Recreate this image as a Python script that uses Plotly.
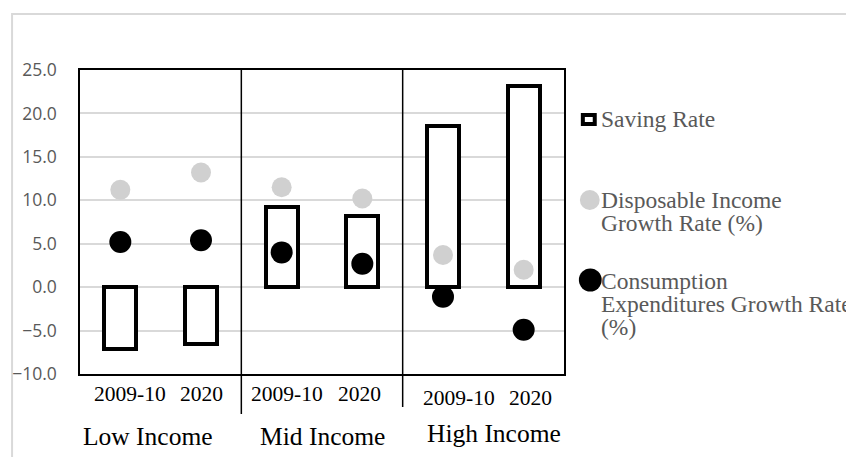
import plotly.graph_objects as go

# ---- data -------------------------------------------------------------
groups = ["Low Income", "Mid Income", "High Income"]
periods = ["2009-10", "2020", "2009-10", "2020", "2009-10", "2020"]
saving_rate = [-7.1, -6.6, 9.2, 8.2, 18.5, 23.2]
disposable_income_growth = [11.2, 13.2, 11.5, 10.2, 3.7, 2.0]
consumption_growth = [5.2, 5.4, 4.0, 2.7, -1.1, -4.9]
y_ticks = [-10, -5, 0, 5, 10, 15, 20, 25]

# ---- canvas / plot-area geometry (pixels) ------------------------------
W, H = 846, 457
L, R, T, B = 76, 564, 70, 374


def px(x):
    return (x - L) / (R - L)


def py(y):
    return (B - y) / (B - T)


x_idx = list(range(len(periods)))

fig = go.Figure()

fig.add_trace(go.Bar(
    x=x_idx, y=saving_rate, name="Saving Rate", width=0.4,
    marker=dict(color="white", line=dict(color="black", width=4)),
    showlegend=False,
))
fig.add_trace(go.Scatter(
    x=x_idx, y=disposable_income_growth, mode="markers",
    name="Disposable Income Growth Rate (%)",
    marker=dict(color="#d0d0d0", size=20, line=dict(width=0)),
    showlegend=False,
))
fig.add_trace(go.Scatter(
    x=x_idx, y=consumption_growth, mode="markers",
    name="Consumption Expenditures Growth Rate (%)",
    marker=dict(color="black", size=22, line=dict(width=0)),
    showlegend=False,
))

serif = "Liberation Serif, Times New Roman, serif"
annotations = []

# period labels under each bar
period_px = [126, 199, 285, 358, 458, 530]
period_py = [394, 394, 394, 394, 398, 398]
for lab, xp, yp in zip(periods, period_px, period_py):
    annotations.append(dict(
        text=lab, xref="paper", yref="paper", x=px(xp), y=py(yp),
        xanchor="center", yanchor="middle", showarrow=False,
        font=dict(family=serif, size=21.5, color="black"),
    ))

# income-group labels
group_px = [145, 321, 493]
group_py = [436, 436, 433]
for lab, xp, yp in zip(groups, group_px, group_py):
    annotations.append(dict(
        text=lab, xref="paper", yref="paper", x=px(xp), y=py(yp),
        xanchor="center", yanchor="middle", showarrow=False,
        font=dict(family=serif, size=25.5, color="black"),
    ))

# legend text, one annotation per line
legend_lines = [
    ("Saving Rate", 119),
    ("Disposable Income", 200),
    ("Growth Rate (%)", 223),
    ("Consumption", 281),
    ("Expenditures Growth Rate", 304),
    ("(%)", 327),
]
for lab, yp in legend_lines:
    annotations.append(dict(
        text=lab, xref="paper", yref="paper", x=px(599), y=py(yp),
        xanchor="left", yanchor="middle", showarrow=False,
        font=dict(family=serif, size=23.5, color="#595959"),
    ))

shapes = [
    # outer chart border
    dict(type="rect", xref="paper", yref="paper",
         x0=px(7.5), x1=px(900), y0=py(14), y1=py(520),
         line=dict(color="#d9d9d9", width=2), layer="below"),
    # group separators
    dict(type="line", xref="x", yref="paper", x0=1.5, x1=1.5,
         y0=1, y1=py(414), line=dict(color="black", width=1.5)),
    dict(type="line", xref="x", yref="paper", x0=3.5, x1=3.5,
         y0=1, y1=py(407), line=dict(color="black", width=1.5)),
    # legend symbols
    dict(type="rect", xref="paper", yref="paper",
         x0=px(583), x1=px(595), y0=py(124), y1=py(115),
         fillcolor="white", line=dict(color="black", width=4)),
    dict(type="circle", xref="paper", yref="paper",
         x0=px(580), x1=px(600), y0=py(210), y1=py(190),
         fillcolor="#d0d0d0", line=dict(width=0)),
    dict(type="circle", xref="paper", yref="paper",
         x0=px(579), x1=px(602), y0=py(291.5), y1=py(268.5),
         fillcolor="black", line=dict(width=0)),
]

fig.update_layout(
    width=W, height=H, autosize=False,
    margin=dict(l=L, r=W - R, t=T, b=H - B, pad=0),
    paper_bgcolor="white", plot_bgcolor="white",
    showlegend=False, bargap=0,
    annotations=annotations, shapes=shapes,
    xaxis=dict(
        range=[-0.5, len(periods) - 0.5], showticklabels=False,
        showgrid=False, zeroline=False, ticks="",
        showline=True, mirror=True, linecolor="black", linewidth=1.5,
    ),
    yaxis=dict(
        range=[-10, 25], tickvals=y_ticks, tickformat=".1f",
        showgrid=True, gridcolor="#d9d9d9", gridwidth=1.5,
        zeroline=False, ticks="", ticklabelstandoff=18,
        showline=True, mirror=True, linecolor="black", linewidth=1.5,
        tickfont=dict(family="Open Sans, sans-serif", size=17.5, color="#595959"),
    ),
)

fig.write_html("out.html")
